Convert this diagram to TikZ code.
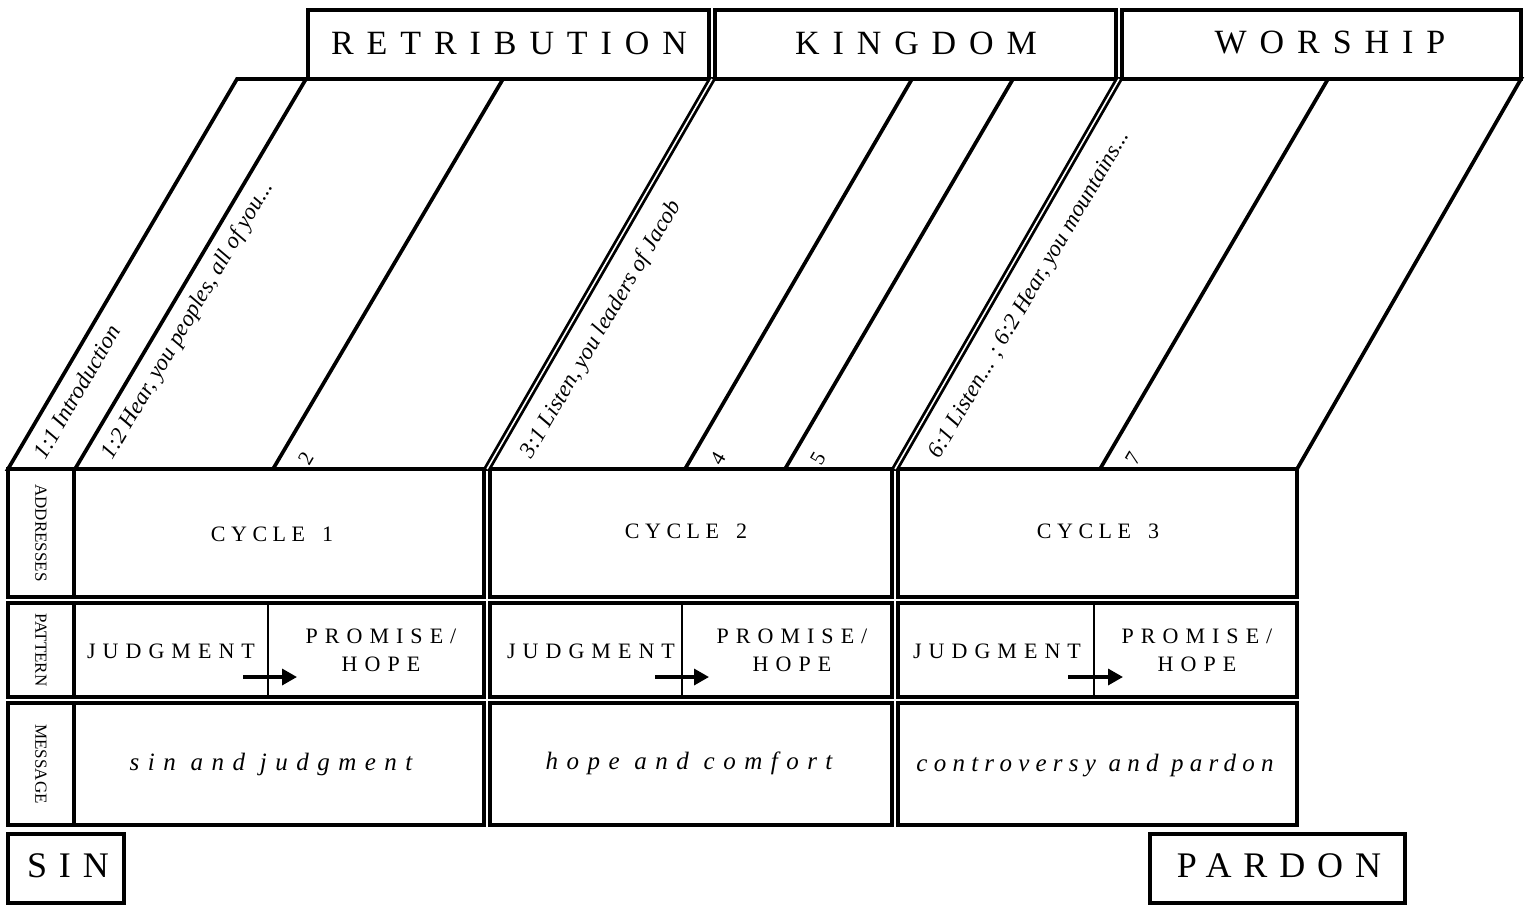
\documentclass[tikz,border=0pt]{standalone}
\usepackage{fontspec}
\setmainfont{Liberation Serif}
\usetikzlibrary{arrows.meta,calc}
\begin{document}
\begin{tikzpicture}[x=1pt,y=-1pt,line join=miter,
  ln/.style={line width=3.7pt},
  dbl/.style={line width=2.8pt,double=white,double distance=1.6pt},
  hdr/.style={inner sep=0pt,font={\fontsize{34}{36}\selectfont\addfontfeatures{LetterSpace=38}}},
  big/.style={inner sep=0pt,font={\fontsize{36}{38}\selectfont\addfontfeatures{LetterSpace=33}}},
  cyc/.style={inner sep=0pt,font={\fontsize{22}{24}\selectfont\addfontfeatures{LetterSpace=25}}},
  pat/.style={inner sep=0pt,align=center,font={\fontsize{22}{28}\selectfont\addfontfeatures{LetterSpace=32}}},
  msg/.style={inner sep=0pt,font={\fontsize{25}{27}\selectfont\itshape\addfontfeatures{LetterSpace=34}}},
  msgn/.style={inner sep=0pt,font={\fontsize{25}{27}\selectfont\itshape\addfontfeatures{LetterSpace=25}}},
  side/.style={inner sep=0pt,rotate=-90,font={\fontsize{17}{18}\selectfont}},
  slant/.style={inner sep=0pt,rotate=59.6,anchor=base west,font={\fontsize{23}{25}\selectfont\itshape}},
  num/.style={inner sep=0pt,rotate=59.6,anchor=base west,font={\fontsize{21}{22}\selectfont}},
  divl/.style={line width=2.6pt},
  arr/.style={line width=3.4pt,-{Triangle[length=15pt,width=16pt]}}]
\fill[white] (0,0) rectangle (1528,905);
\useasboundingbox (0,0) rectangle (1528,905);
% slanted region
\coordinate (b0) at (8,469);   \coordinate (t0) at (237,79);
\coordinate (b1) at (75,469);  \coordinate (t1) at (306,79);
\coordinate (b2) at (273,469); \coordinate (t2) at (503,79);
\coordinate (b3) at (487,469); \coordinate (t3) at (712,79);
\coordinate (b4) at (685,469); \coordinate (t4) at (912,79);
\coordinate (b5) at (785,469); \coordinate (t5) at (1013,79);
\coordinate (b6) at (895,469); \coordinate (t6) at (1119,79);
\coordinate (b7) at (1100,469);\coordinate (t7) at (1328,79);
\coordinate (b8) at (1297,469);\coordinate (t8) at (1521,79);
% header boxes
\draw[ln] (308,10) rectangle (709,79);
\draw[ln] (715,10) rectangle (1116,79);
\draw[ln] (1122,10) rectangle (1521,79);
\node[hdr] (retr) at (509,43) {RETRIBUTION};
\node[hdr] (king) at (916,43) {KINGDOM};
\node[hdr] (wors) at (1330,43) {WORSHIP};
\draw[ln] (b0) -- (t0) -- (t8) -- (b8) -- cycle;
\foreach \i in {1,2,4,5,7} { \draw[ln] (b\i) -- (t\i); }
% grid
\foreach \ya/\yb/\lab in {469/597/ADDRESSES,603/697/PATTERN,703/825/MESSAGE} {
  \draw[ln] (8,\ya) rectangle (74,\yb);
  \draw[ln] (74,\ya) rectangle (484,\yb);
  \draw[ln] (490,\ya) rectangle (892,\yb);
  \draw[ln] (898,\ya) rectangle (1297,\yb);
  \node[side] (lab-\lab) at (41,{(\ya+\yb)/2}) {\lab};
}
\draw[dbl] (b3) -- (t3);
\draw[dbl] (b6) -- (t6);
% slanted labels
\node[slant] (l11) at ($($(b0)!26pt!(t0)$)!28pt!-90:(t0)$) {1:1 Introduction};
\node[slant] (l12) at ($($(b1)!26pt!(t1)$)!28pt!-90:(t1)$) {1:2 Hear, you peoples, all of you...};
\node[slant] (l31) at ($($(b3)!30pt!(t3)$)!34pt!-90:(t3)$) {3:1 Listen, you leaders of Jacob};
\node[slant] (l61) at ($($(b6)!30pt!(t6)$)!34pt!-90:(t6)$) {6:1 Listen... ; 6:2 Hear, you mountains...};
\node[num] (n2) at ($($(b2)!20pt!(t2)$)!30pt!-90:(t2)$) {2};
\node[num] (n4) at ($($(b4)!20pt!(t4)$)!30pt!-90:(t4)$) {4};
\node[num] (n5) at ($($(b5)!20pt!(t5)$)!30pt!-90:(t5)$) {5};
\node[num] (n7) at ($($(b7)!20pt!(t7)$)!30pt!-90:(t7)$) {7};
% cycles
\node[cyc] (c1) at (272,534) {CYCLE\hspace{6pt} 1};
\node[cyc] (c2) at (686,531) {CYCLE\hspace{6pt} 2};
\node[cyc] (c3) at (1098,531) {CYCLE\hspace{6pt} 3};
% pattern
\foreach \k/\dx/\jx/\px/\ax/\bx in {1/268/171/381/243/297, 2/682/591/792/655/709, 3/1094/997/1197/1068/1123} {
  \draw[divl] (\dx,605) -- (\dx,697);
  \node[pat] (j\k) at (\jx,651) {JUDGMENT};
  \node[pat] (p\k) at (\px,650) {PROMISE/\\HOPE};
  \coordinate (as\k) at (\ax,677);
  \coordinate (ae\k) at (\bx,677);
  \draw[arr] (as\k) -- (ae\k);
}
% messages
\node[msg] (m1) at (271,764) {sin and judgment};
\node[msg] (m2) at (689,763) {hope and comfort};
\node[msgn] (m3) at (1095,766) {controversy and pardon};
% bottom boxes
\draw[ln] (8,834) rectangle (124,903);
\node[big] (sin) at (68,866) {SIN};
\draw[ln] (1150,834) rectangle (1405,903);
\node[big] (pardon) at (1279,866) {PARDON};
\end{tikzpicture}
\end{document}
